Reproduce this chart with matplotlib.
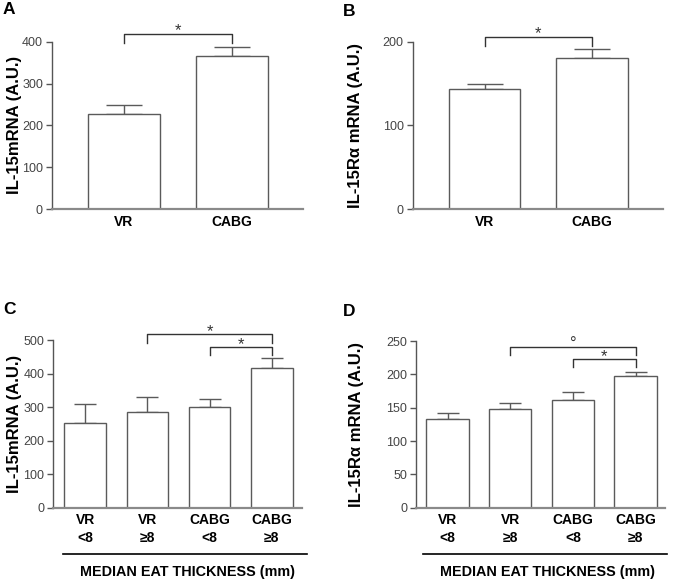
import matplotlib
matplotlib.use("Agg")
import matplotlib.pyplot as plt
from matplotlib.lines import Line2D
from matplotlib.transforms import blended_transform_factory

plt.rcParams['font.family'] = ['Liberation Sans', 'DejaVu Sans']

# ---- data ----
cats_ab = ["VR", "CABG"]
a_vals = [228, 365]
a_err = [20, 23]
b_vals = [143, 181]
b_err = [6, 10]

cats_cd = ["VR\n<8", "VR\n≥8", "CABG\n<8", "CABG\n≥8"]
c_vals = [253, 285, 301, 417]
c_err = [56, 47, 23, 30]
d_vals = [133.5, 148, 161, 197]
d_err = [8, 8.5, 13, 6]

W, H = 678, 581
fig = plt.figure(figsize=(W / 100, H / 100), dpi=100)

EDGE = "#5a5a5a"
SPINE_L = "#555555"
SPINE_B = "#8a8a8a"
BR = "#333333"
TICKC = "#444444"


def make_ax(x0, x1, y0, y1):
    # pixel coords: x0 left, x1 right, y0 bottom pixel, y1 top pixel
    return fig.add_axes([x0 / W, 1 - y0 / H, (x1 - x0) / W, (y0 - y1) / H])


def style(ax, ymax, yticks, xlim):
    ax.set_xlim(*xlim)
    ax.set_ylim(0, ymax)
    for s in ["top", "right"]:
        ax.spines[s].set_visible(False)
    ax.spines["left"].set_color(SPINE_L)
    ax.spines["left"].set_linewidth(1.0)
    ax.spines["bottom"].set_color(SPINE_B)
    ax.spines["bottom"].set_linewidth(1.6)
    ax.set_yticks(yticks)
    ax.tick_params(axis="y", direction="out", length=4.5, width=1.0, color=SPINE_L,
                   labelsize=9, labelcolor=TICKC, pad=2)
    ax.tick_params(axis="x", length=0, labelsize=10, pad=4)
    for lab in ax.get_xticklabels():
        lab.set_fontweight("bold")
        lab.set_linespacing(1.3)
    ax.patch.set_alpha(0)


def bars(ax, cats, vals, errs, width, cap_pt):
    x = list(range(len(cats)))
    ax.bar(x, vals, width=width, color="white", edgecolor=EDGE, linewidth=1.0, zorder=2)
    ax.errorbar(x, vals, yerr=[[0] * len(vals), errs], fmt="none", ecolor=EDGE,
                elinewidth=1.0, capsize=cap_pt, capthick=1.0, zorder=1)
    ax.set_xticks(x)
    ax.set_xticklabels(cats)


def bracket(ax, x1, x2, y, drop, sym, off_pt=-1.3, fs=12):
    ax.plot([x1, x1, x2, x2], [y - drop, y, y, y - drop], color=BR, lw=1.0,
            clip_on=False, zorder=3)
    ax.annotate(sym, xy=((x1 + x2) / 2, y), xytext=(0, off_pt), textcoords="offset points",
                ha="center", va="baseline", fontsize=fs, color=BR, annotation_clip=False)


# Panel A
axA = make_ax(52, 303, 209, 41.7)
bars(axA, cats_ab, a_vals, a_err, 0.67, 13.2)
style(axA, 400, [0, 100, 200, 300, 400], (-0.67, 1.665))
bracket(axA, 0, 1, 419, 21, "*")

# Panel B
axB = make_ax(412.7, 663, 209, 41.7)
bars(axB, cats_ab, b_vals, b_err, 0.67, 13.2)
style(axB, 200, [0, 100, 200], (-0.67, 1.665))
bracket(axB, 0, 1, 206, 11, "*")

# Panel C
axC = make_ax(53.3, 301.7, 507.7, 340.3)
bars(axC, cats_cd, c_vals, c_err, 0.67, 7.7)
style(axC, 500, [0, 100, 200, 300, 400, 500], (-0.513, 3.48))
bracket(axC, 1, 3, 518, 25, "*")
bracket(axC, 2, 3, 480, 24, "*")

# Panel D
axD = make_ax(416.3, 665, 507.7, 341)
bars(axD, cats_cd, d_vals, d_err, 0.676, 7.7)
style(axD, 250, [0, 50, 100, 150, 200, 250], (-0.5, 3.47))
bracket(axD, 1, 3, 241, 12, "°", off_pt=-1.5)
bracket(axD, 2, 3, 222.5, 11, "*")

# y labels (positioned by pixel)
for ax, t, xp in [(axA, "IL-15mRNA (A.U.)", 22), (axB, "IL-15Rα mRNA (A.U.)", 363),
                  (axC, "IL-15mRNA (A.U.)", 22), (axD, "IL-15Rα mRNA (A.U.)", 364)]:
    ax.set_ylabel(t, fontsize=12, fontweight="bold")
    ax.yaxis.set_label_coords(xp / W, 0.5,
                              transform=blended_transform_factory(fig.transFigure, ax.transAxes))

# group lines and labels under C and D
for (xa, xb, xc) in [(63, 306.7, 187.5), (423.3, 666.7, 547.5)]:
    fig.add_artist(Line2D([xa / W, xb / W], [1 - 554.3 / H] * 2, color="black", lw=1.2))
    fig.text(xc / W, 1 - 571.7 / H, "MEDIAN EAT THICKNESS (mm)", ha="center", va="center",
             fontsize=10.4, fontweight="bold")

# panel letters
for (px, py, t) in [(3, 10, "A"), (343, 12, "B"), (3, 310, "C"), (343, 312, "D")]:
    fig.text(px / W, 1 - py / H, t, ha="left", va="center", fontsize=12.5, fontweight="bold")

fig.savefig("out.png", dpi=100)
